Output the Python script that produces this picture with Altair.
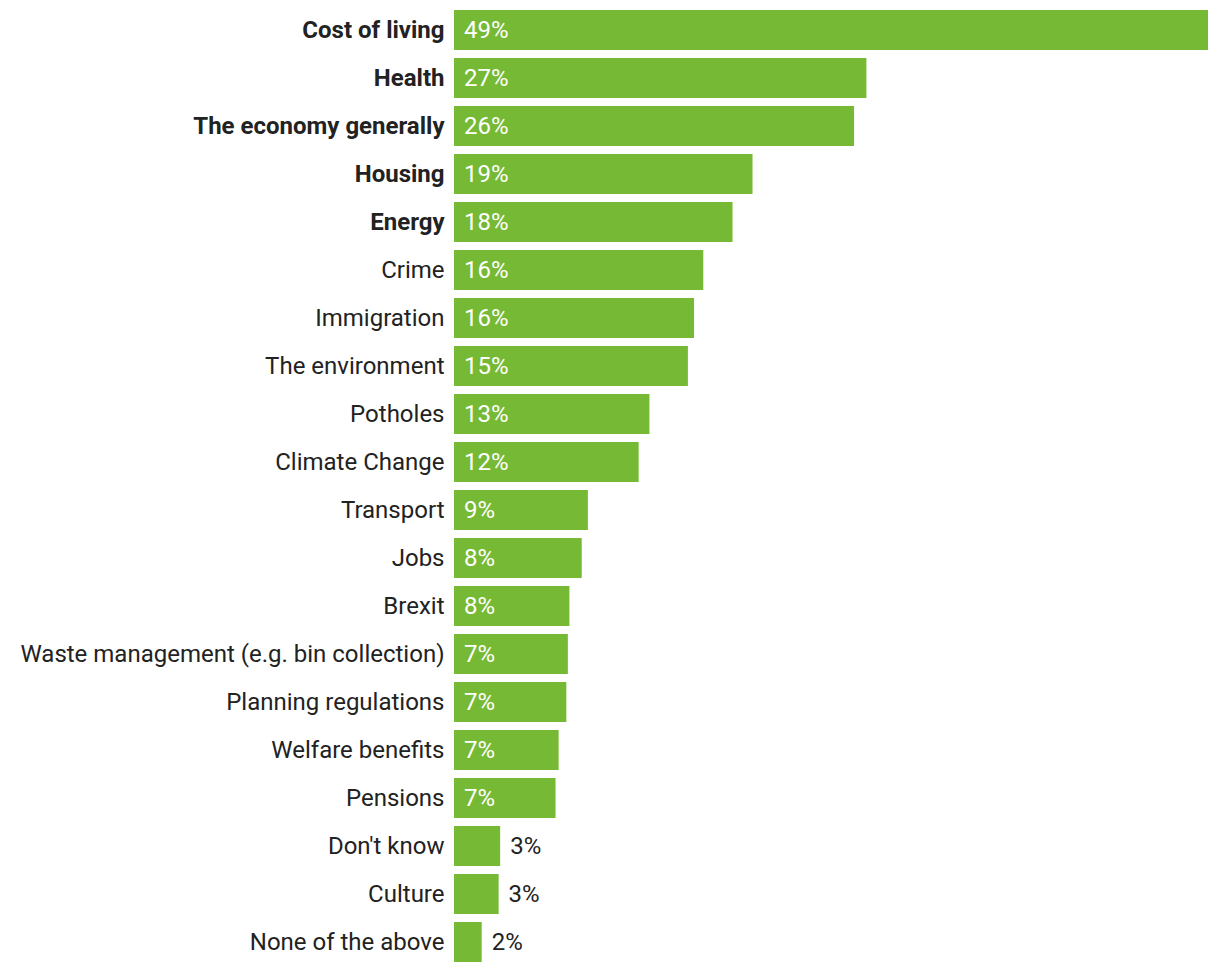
import altair as alt
import pandas as pd

categories = [
    "Cost of living", "Health", "The economy generally", "Housing", "Energy",
    "Crime", "Immigration", "The environment", "Potholes", "Climate Change",
    "Transport", "Jobs", "Brexit", "Waste management (e.g. bin collection)",
    "Planning regulations", "Welfare benefits", "Pensions", "Don't know",
    "Culture", "None of the above",
]
values = [49.0, 26.8, 26.0, 19.4, 18.1, 16.2, 15.6, 15.2, 12.7, 12.0,
          8.7, 8.3, 7.5, 7.4, 7.3, 6.8, 6.6, 3.0, 2.9, 1.8]
labels = ["49%", "27%", "26%", "19%", "18%", "16%", "16%", "15%", "13%", "12%",
          "9%", "8%", "8%", "7%", "7%", "7%", "7%", "3%", "3%", "2%"]
bold_categories = ["Cost of living", "Health", "The economy generally", "Housing", "Energy"]

df = pd.DataFrame({"category": categories, "value": values, "label": labels})
df["zero"] = 0.0
df["inside"] = df["value"] > 5

GREEN = "#76B934"
FONT = "Roboto"
FS = 24

bold_list = ",".join("'" + c.replace("'", "\\'") + "'" for c in bold_categories)

y_enc = alt.Y(
    "category:N",
    sort=categories,
    scale=alt.Scale(paddingInner=1 / 6, paddingOuter=1 / 12),
    axis=alt.Axis(
        title=None, domain=False, ticks=False, labelPadding=10,
        labelFont=FONT, labelFontSize=FS, labelColor="#222222",
        labelLimit=0, labelOffset=1,
        labelFontWeight=alt.ExprRef(f"indexof([{bold_list}], datum.value) >= 0 ? 'bold' : 'normal'"),
    ),
)

x_scale = alt.Scale(domain=[0, 49], nice=False, zero=True)

bars = alt.Chart(df).mark_bar(color=GREEN).encode(
    x=alt.X("value:Q", scale=x_scale, axis=None),
    y=y_enc,
)

text_in = alt.Chart(df).transform_filter("datum.inside").mark_text(
    align="left", baseline="middle", dx=10, dy=1, font=FONT, fontSize=FS, color="white"
).encode(
    x=alt.X("zero:Q", scale=x_scale),
    y=alt.Y("category:N", sort=categories),
    text="label:N",
)

text_out = alt.Chart(df).transform_filter("!datum.inside").mark_text(
    align="left", baseline="middle", dx=10, dy=1, font=FONT, fontSize=FS, color="#222222"
).encode(
    x=alt.X("value:Q", scale=x_scale),
    y=alt.Y("category:N", sort=categories),
    text="label:N",
)

chart = alt.layer(bars, text_in, text_out).properties(
    width=754, height=960,
    padding={"left": 454, "top": 6, "right": 0, "bottom": 0},
    autosize=alt.AutoSizeParams(type="none"),
).configure_view(stroke=None)

chart.save("out.html", embed_options={"renderer": "svg", "actions": False})
